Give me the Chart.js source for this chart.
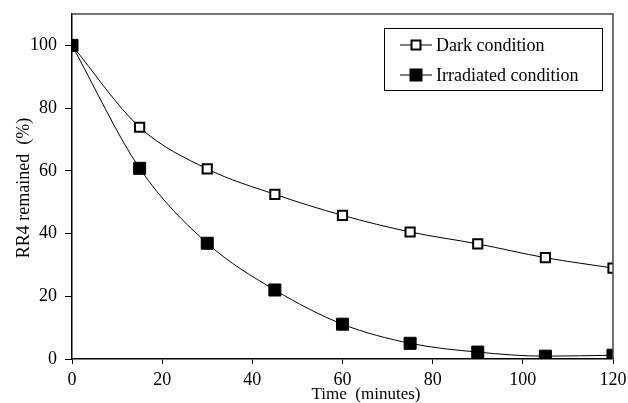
<!DOCTYPE html>
<html>
<head>
<meta charset="utf-8">
<script src="https://cdn.jsdelivr.net/npm/chart.js@4"></script>
<style>
    html, body { margin: 0; padding: 0; background: #fff; }
    #wrap { width: 628px; height: 403px; }
</style>
</head>
<body>
<div id="wrap"><canvas id="chart" width="628" height="403"></canvas></div>
<script>
// data
const times = [0, 15, 30, 45, 60, 75, 90, 105, 120];
const darkValues = [100, 73.9, 60.6, 52.5, 45.8, 40.5, 36.7, 32.3, 29.0];
const irradiatedValues = [100, 60.8, 36.9, 22.0, 11.1, 5.0, 2.2, 0.9, 1.2];
const xTicks = [0, 20, 40, 60, 80, 100, 120];
const yTicks = [0, 20, 40, 60, 80, 100];
const seriesLabels = ['Dark condition', 'Irradiated condition'];
const xTitle = 'Time  (minutes)';
const yTitle = 'RR4 remained  (%)';

const FONT = '"Liberation Serif", "DejaVu Serif", serif';

const toPoints = vals => vals.map((v, i) => ({ x: times[i], y: v }));

// frame on top/right + axis titles + legend box
const decorPlugin = {
    id: 'decor',
    afterDraw(chart) {
        const { ctx, chartArea: a } = chart;
        ctx.save();
        ctx.strokeStyle = '#444';
        ctx.lineWidth = 1.5;
        ctx.beginPath();
        ctx.moveTo(a.left, a.top);
        ctx.lineTo(a.right, a.top);
        ctx.lineTo(a.right, a.bottom);
        ctx.stroke();

        // axis titles
        ctx.fillStyle = '#000';
        ctx.textAlign = 'center';
        ctx.textBaseline = 'middle';
        ctx.font = '17px ' + FONT;
        ctx.fillText(xTitle, 366, 395);
        ctx.font = '18px ' + FONT;
        ctx.translate(24, 188);
        ctx.rotate(-Math.PI / 2);
        ctx.fillText(yTitle, 0, 0);
        ctx.restore();

        // legend
        ctx.save();
        ctx.strokeStyle = '#000';
        ctx.lineWidth = 1;
        ctx.strokeRect(384.5, 28.5, 218, 62);
        ctx.font = '18px ' + FONT;
        ctx.textBaseline = 'middle';
        ctx.textAlign = 'left';
        chart.data.datasets.forEach((ds, i) => {
            const y = 45 + i * 30;
            ctx.strokeStyle = '#000';
            ctx.lineWidth = 1;
            ctx.beginPath();
            ctx.moveTo(400, y);
            ctx.lineTo(432, y);
            ctx.stroke();
            const s = i === 0 ? 9 : 11;
            ctx.fillStyle = ds.pointBackgroundColor;
            ctx.fillRect(416 - s / 2, y - s / 2, s, s);
            ctx.lineWidth = 2;
            ctx.strokeRect(416 - s / 2, y - s / 2, s, s);
            ctx.fillStyle = '#000';
            ctx.fillText(ds.label, 436, y + 1);
        });
        ctx.restore();
    }
};

new Chart(document.getElementById('chart'), {
    type: 'line',
    data: {
        datasets: [
            {
                label: seriesLabels[0],
                data: toPoints(darkValues),
                order: 1,
                borderColor: '#000',
                borderWidth: 1,
                pointStyle: 'rect',
                pointRadius: 6.5,
                pointBorderWidth: 2,
                pointBorderColor: '#000',
                pointBackgroundColor: '#fff',
                cubicInterpolationMode: 'monotone'
            },
            {
                label: seriesLabels[1],
                data: toPoints(irradiatedValues),
                order: 0,
                borderColor: '#000',
                borderWidth: 1,
                pointStyle: 'rect',
                pointRadius: 8.5,
                pointBorderWidth: 1,
                pointBorderColor: '#000',
                pointBackgroundColor: '#000',
                cubicInterpolationMode: 'monotone'
            }
        ]
    },
    options: {
        responsive: false,
        animation: false,
        layout: { padding: { top: 14, right: 15, left: 0, bottom: 0 } },
        plugins: {
            legend: { display: false },
            tooltip: { enabled: false }
        },
        scales: {
            x: {
                type: 'linear',
                min: 0,
                max: 120,
                afterBuildTicks: s => { s.ticks = xTicks.map(v => ({ value: v })); },
                afterFit: s => {
                    s.height = 44;
                    s.paddingLeft = 0;
                    s.paddingRight = 0;
                },
                border: { color: '#000', width: 1.5 },
                grid: { drawOnChartArea: false, tickLength: 5, color: '#000', tickWidth: 1 },
                ticks: { color: '#000', font: { family: FONT, size: 18 }, padding: 5, maxRotation: 0 }
            },
            y: {
                min: 0,
                max: 110,
                afterBuildTicks: s => { s.ticks = yTicks.map(v => ({ value: v })); },
                afterFit: s => {
                    s.width = 72;
                    s.paddingTop = 0;
                    s.paddingBottom = 0;
                },
                border: { color: '#000', width: 1.5 },
                grid: { drawOnChartArea: false, tickLength: 7, color: '#000', tickWidth: 1 },
                ticks: { color: '#000', font: { family: FONT, size: 18 }, padding: 8 }
            }
        }
    },
    plugins: [decorPlugin]
});
</script>
</body>
</html>
